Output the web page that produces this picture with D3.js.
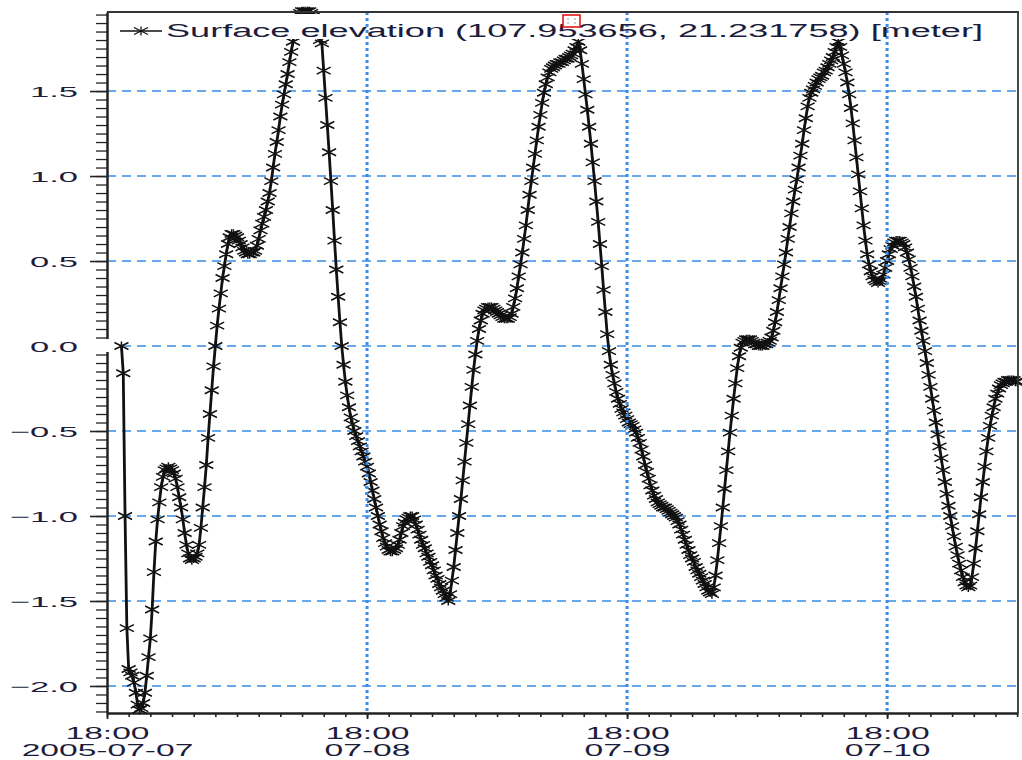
<!DOCTYPE html>
<html>
<head>
<meta charset="utf-8">
<script src="https://cdn.jsdelivr.net/npm/d3@7"></script>
<style>
  body { margin: 0; background: #fff; }
  svg { display: block; }
  text { font-family: "Liberation Sans", Arial, sans-serif; fill: #1c1c3c; }
</style>
</head>
<body>
<script>
// series: surface elevation, one value every 10 minutes
const seriesName = "Surface elevation (107.953656, 21.231758) [meter]";
const startTime = "2005-07-07 19:20";
const stepMinutes = 10;
const elevation = [
  0.00, -0.16, -1.00, -1.66, -1.90, -1.92, -1.94, -1.98, -2.04, -2.11,
  -2.14, -2.13, -2.10, -2.04, -1.94, -1.83, -1.72, -1.55, -1.33, -1.15,
  -1.02, -0.92, -0.83, -0.77, -0.73, -0.72, -0.71, -0.72, -0.73, -0.75,
  -0.78, -0.83, -0.89, -0.95, -1.02, -1.10, -1.17, -1.22, -1.25, -1.26,
  -1.25, -1.24, -1.22, -1.17, -1.07, -0.95, -0.83, -0.70, -0.54, -0.40,
  -0.26, -0.12, 0.00, 0.12, 0.22, 0.31, 0.40, 0.47, 0.54, 0.60,
  0.64, 0.66, 0.66, 0.65, 0.64, 0.62, 0.60, 0.58, 0.56, 0.55,
  0.54, 0.54, 0.55, 0.55, 0.56, 0.59, 0.63, 0.68, 0.72, 0.76,
  0.80, 0.85, 0.90, 0.97, 1.05, 1.13, 1.20, 1.27, 1.35, 1.42,
  1.48, 1.54, 1.60, 1.67, 1.73, 1.79, 1.86, 1.92, 1.95, 1.96,
  1.97, 1.97, 1.97, 1.97, 1.97, 1.96, 1.94, 1.91, 1.87, 1.83,
  1.80, 1.78, 1.62, 1.46, 1.30, 1.14, 0.97, 0.80, 0.62, 0.45,
  0.29, 0.14, 0.00, -0.11, -0.21, -0.29, -0.36, -0.42, -0.46, -0.50,
  -0.53, -0.56, -0.59, -0.62, -0.65, -0.68, -0.71, -0.75, -0.80, -0.85,
  -0.90, -0.95, -1.00, -1.05, -1.09, -1.13, -1.16, -1.18, -1.20, -1.21,
  -1.21, -1.20, -1.19, -1.17, -1.14, -1.10, -1.06, -1.04, -1.02, -1.01,
  -1.00, -1.00, -1.02, -1.05, -1.08, -1.11, -1.14, -1.17, -1.19, -1.22,
  -1.24, -1.27, -1.29, -1.32, -1.35, -1.37, -1.40, -1.42, -1.44, -1.46,
  -1.48, -1.50, -1.46, -1.38, -1.30, -1.20, -1.10, -1.00, -0.90, -0.79,
  -0.68, -0.57, -0.46, -0.35, -0.24, -0.14, -0.05, 0.03, 0.10, 0.15,
  0.19, 0.21, 0.22, 0.23, 0.23, 0.23, 0.22, 0.21, 0.20, 0.19,
  0.18, 0.17, 0.16, 0.16, 0.16, 0.17, 0.19, 0.23, 0.28, 0.34,
  0.41, 0.48, 0.55, 0.63, 0.71, 0.80, 0.89, 0.97, 1.05, 1.13,
  1.21, 1.29, 1.36, 1.43, 1.49, 1.54, 1.58, 1.61, 1.63, 1.64,
  1.65, 1.66, 1.66, 1.67, 1.67, 1.68, 1.69, 1.69, 1.70, 1.71,
  1.72, 1.74, 1.76, 1.79, 1.74, 1.66, 1.57, 1.48, 1.39, 1.29,
  1.19, 1.08, 0.97, 0.85, 0.73, 0.60, 0.47, 0.33, 0.20, 0.07,
  -0.03, -0.11, -0.17, -0.22, -0.27, -0.31, -0.34, -0.37, -0.39, -0.41,
  -0.43, -0.45, -0.46, -0.47, -0.49, -0.51, -0.54, -0.57, -0.61, -0.65,
  -0.70, -0.74, -0.78, -0.82, -0.85, -0.88, -0.90, -0.92, -0.93, -0.94,
  -0.95, -0.95, -0.96, -0.97, -0.98, -0.99, -1.00, -1.01, -1.03, -1.05,
  -1.08, -1.11, -1.14, -1.17, -1.20, -1.23, -1.25, -1.27, -1.30, -1.32,
  -1.34, -1.36, -1.38, -1.40, -1.42, -1.44, -1.45, -1.46, -1.42, -1.35,
  -1.26, -1.16, -1.06, -0.95, -0.84, -0.73, -0.62, -0.51, -0.41, -0.31,
  -0.22, -0.13, -0.06, -0.01, 0.02, 0.03, 0.04, 0.04, 0.04, 0.03,
  0.02, 0.01, 0.01, 0.00, 0.00, 0.00, 0.01, 0.01, 0.02, 0.03,
  0.05, 0.09, 0.14, 0.20, 0.27, 0.34, 0.41, 0.48, 0.55, 0.63,
  0.70, 0.78, 0.85, 0.92, 0.98, 1.05, 1.12, 1.19, 1.27, 1.34,
  1.41, 1.46, 1.49, 1.51, 1.53, 1.55, 1.57, 1.58, 1.59, 1.61,
  1.62, 1.64, 1.66, 1.68, 1.70, 1.73, 1.76, 1.79, 1.76, 1.71,
  1.66, 1.61, 1.55, 1.48, 1.40, 1.31, 1.21, 1.11, 1.01, 0.91,
  0.81, 0.71, 0.62, 0.54, 0.48, 0.44, 0.41, 0.39, 0.38, 0.37,
  0.38, 0.39, 0.42, 0.46, 0.50, 0.54, 0.57, 0.59, 0.61, 0.62,
  0.62, 0.62, 0.61, 0.60, 0.58, 0.55, 0.51, 0.46, 0.41, 0.35,
  0.29, 0.22, 0.15, 0.09, 0.03, -0.03, -0.10, -0.17, -0.24, -0.31,
  -0.38, -0.45, -0.52, -0.59, -0.66, -0.73, -0.80, -0.87, -0.94, -1.00,
  -1.06, -1.12, -1.18, -1.23, -1.28, -1.32, -1.36, -1.39, -1.41, -1.42,
  -1.41, -1.36, -1.28, -1.19, -1.09, -0.99, -0.89, -0.80, -0.71, -0.62,
  -0.54, -0.47, -0.41, -0.36, -0.31, -0.28, -0.25, -0.23, -0.22, -0.21,
  -0.21, -0.20, -0.20, -0.20, -0.20, -0.21, -0.21
];

// axes
const xDomain = ["2005-07-07 18:00", "2005-07-11 06:05"];
const yDomain = [-2.159, 1.965];
const xMajorTicks = ["2005-07-07 18:00", "2005-07-08 18:00", "2005-07-09 18:00", "2005-07-10 18:00"];
const xTickTimes = ["18:00", "18:00", "18:00", "18:00"];
const xTickDates = ["2005-07-07", "07-08", "07-09", "07-10"];
const yMajorTicks = [-2.0, -1.5, -1.0, -0.5, 0.0, 0.5, 1.0, 1.5];

const width = 1022, height = 760;
const plotLeft = 107, plotRight = 1018, plotTop = 12, plotBottom = 713;
const gridColor = "#3a8ce6";
const marker = "M0,-4.5V4.5M-7,-3.5L7,3.5M-7,3.5L7,-3.5";

const parseTime = d3.timeParse("%Y-%m-%d %H:%M");
const t0 = parseTime(startTime);
const data = elevation.map((v, i) => ({ date: d3.timeMinute.offset(t0, i * stepMinutes), value: v }));

const x = d3.scaleTime().domain(xDomain.map(parseTime)).range([plotLeft, plotRight]);
const y = d3.scaleLinear().domain(yDomain).range([plotBottom, plotTop]);

const svg = d3.select("body").append("svg")
  .attr("width", width)
  .attr("height", height);

// horizontal dashed grid
svg.append("g").selectAll("line")
  .data(yMajorTicks)
  .join("line")
  .attr("x1", plotLeft).attr("x2", plotRight)
  .attr("y1", d => y(d)).attr("y2", d => y(d))
  .attr("stroke", gridColor)
  .attr("stroke-width", 1.5)
  .attr("stroke-dasharray", "9,6");

// y axis: minor and major ticks
const yMinor = d3.range(-43, 40).map(k => k * 0.05);
svg.append("g")
  .attr("transform", `translate(${plotLeft},0)`)
  .call(d3.axisLeft(y).tickValues(yMinor).tickSize(11).tickFormat(""))
  .call(g => g.select(".domain").remove())
  .selectAll("line").attr("stroke", "#222").attr("stroke-width", 1.3);

const sy = 2.3;
const yAxisG = svg.append("g")
  .attr("transform", `translate(${plotLeft},0)`)
  .call(d3.axisLeft(y).tickValues(yMajorTicks).tickSize(17).tickSizeOuter(0).tickFormat(d3.format(".1f")));
yAxisG.select(".domain").attr("stroke", "#222").attr("stroke-width", 2.5);
yAxisG.selectAll(".tick line").attr("stroke", "#222").attr("stroke-width", 1.6);
yAxisG.selectAll(".tick text")
  .attr("font-size", 15)
  .attr("x", -29 / sy)
  .attr("dy", "0.36em")
  .attr("transform", `scale(${sy},1)`)
  .style("fill", "#1c1c3c");

// x axis: 2-hour minor ticks and daily labels
const xMinor = d3.timeHour.every(2).range(x.domain()[0], x.domain()[1]);
svg.append("g")
  .attr("transform", `translate(0,${plotBottom})`)
  .call(d3.axisBottom(x).tickValues(xMinor).tickSize(4).tickFormat(""))
  .call(g => g.select(".domain").remove())
  .selectAll("line").attr("stroke", "#222").attr("stroke-width", 1.6);

const sx = 2.1;
const xAxisG = svg.append("g")
  .attr("transform", `translate(0,${plotBottom})`)
  .call(d3.axisBottom(x).tickValues(xMajorTicks.map(parseTime)).tickSize(6).tickSizeOuter(0)
    .tickFormat((d, i) => xTickTimes[i]));
xAxisG.select(".domain").attr("stroke", "#222").attr("stroke-width", 2.5);
xAxisG.selectAll(".tick line").attr("stroke", "#222").attr("stroke-width", 1.8);
xAxisG.selectAll(".tick text")
  .attr("y", 26).attr("dy", null)
  .attr("font-size", 16)
  .attr("transform", `scale(${sx},1)`)
  .style("fill", "#1c1c3c");
xAxisG.selectAll(".tick")
  .append("text")
  .attr("y", 43)
  .attr("text-anchor", "middle")
  .attr("font-size", 16)
  .attr("transform", `scale(${sx},1)`)
  .style("fill", "#1c1c3c")
  .text((d, i) => xTickDates[i]);

// gap in the left axis around zero
svg.append("rect")
  .attr("x", 88).attr("y", y(0) - 7)
  .attr("width", 34).attr("height", 13)
  .attr("fill", "#fff");

// series line and markers
const line = d3.line()
  .x(d => x(d.date))
  .y(d => y(d.value));

svg.append("path")
  .attr("d", line(data))
  .attr("fill", "none")
  .attr("stroke", "#111")
  .attr("stroke-width", 2.8)
  .attr("stroke-linejoin", "round");

svg.append("g").selectAll("path")
  .data(data)
  .join("path")
  .attr("transform", d => `translate(${x(d.date)},${y(d.value)})`)
  .attr("d", marker)
  .attr("fill", "none")
  .attr("stroke", "#111")
  .attr("stroke-width", 1.5);

// legend box
svg.append("rect")
  .attr("x", 112).attr("y", 14)
  .attr("width", 900).attr("height", 25)
  .attr("fill", "#fff");

// vertical dotted grid (drawn over the legend)
svg.append("g").selectAll("line")
  .data(xMajorTicks.slice(1).map(parseTime))
  .join("line")
  .attr("x1", d => x(d)).attr("x2", d => x(d))
  .attr("y1", plotTop).attr("y2", plotBottom)
  .attr("stroke", gridColor)
  .attr("stroke-width", 3)
  .attr("stroke-dasharray", "3,3");

const legend = svg.append("g");
legend.append("line")
  .attr("x1", 120).attr("x2", 162)
  .attr("y1", 31).attr("y2", 31)
  .attr("stroke", "#111").attr("stroke-width", 1.5);
legend.append("path")
  .attr("transform", "translate(141,31)")
  .attr("d", marker)
  .attr("fill", "none").attr("stroke", "#111").attr("stroke-width", 1.3);
legend.append("text")
  .attr("x", 166).attr("y", 37)
  .attr("font-size", 18)
  .attr("textLength", 817)
  .attr("lengthAdjust", "spacingAndGlyphs")
  .text(seriesName);

// small red marker box in the legend
legend.append("rect")
  .attr("x", 563).attr("y", 15)
  .attr("width", 17).attr("height", 12)
  .attr("fill", "#fff")
  .attr("stroke", "#e01818").attr("stroke-width", 1.6);
legend.append("path")
  .attr("d", "M567,19h2M574,19h2M567,23h2M574,23h2")
  .attr("stroke", "#999").attr("stroke-width", 1.2);

// top and right frame
svg.append("path")
  .attr("d", `M${plotLeft},${plotTop}H${plotRight}V${plotBottom}`)
  .attr("fill", "none")
  .attr("stroke", "#333")
  .attr("stroke-width", 1.8);
</script>
</body>
</html>
